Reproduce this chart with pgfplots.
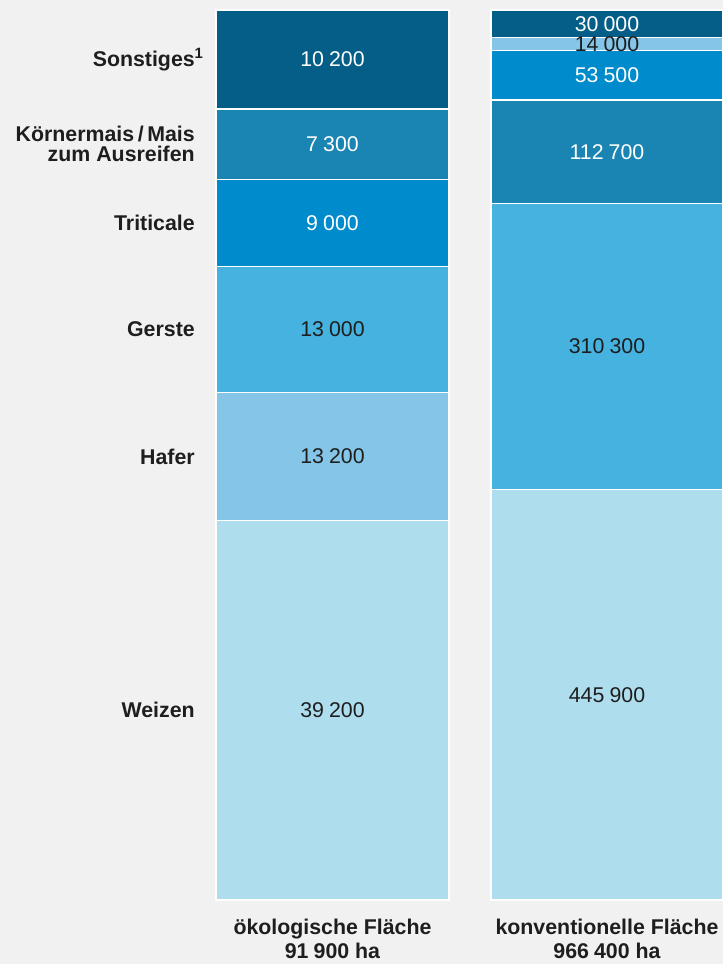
\documentclass[border=0pt]{standalone}
\usepackage{pgfplots}
\pgfplotsset{compat=1.18}
\usepackage{fontspec}
\setmainfont{Liberation Sans}

\definecolor{bgc}{HTML}{F1F1F1}
\definecolor{cWeizen}{HTML}{AEDEEE}
\definecolor{cHafer}{HTML}{85C6E8}
\definecolor{cGerste}{HTML}{45B2E0}
\definecolor{cTriticale}{HTML}{008CCC}
\definecolor{cMais}{HTML}{1A84B2}
\definecolor{cSonst}{HTML}{045E87}
\definecolor{txt}{HTML}{1E1E1E}

\pgfplotsset{
  stackbar/.style={
    scale only axis,
    height=667.5pt,
    xmin=-0.5, xmax=0.5, ymin=0,
    axis line style={draw=none},
    major tick length=0pt,
    scaled y ticks=false,
    clip=false,
    ybar stacked, bar width=1,
    xtick={0},
    xticklabel style={font=\bfseries\fontsize{16}{18}\selectfont, align=center,
      anchor=north, inner sep=0pt, yshift=-14pt, text=txt},
    nodes near coords={\pgfmathprintnumber{\rawy}},
    visualization depends on=rawy \as \rawy,
    every node near coord/.append style={anchor=center, text=txt,
      font=\fontsize{16}{16}\selectfont},
    /pgf/number format/fixed,
    /pgf/number format/precision=0,
    /pgf/number format/1000 sep={\hspace{0.24em}},
    /pgf/number format/assume math mode=true,
  },
  seg/.style={fill=#1, draw=white, line width=1.2pt},
  light/.style={every node near coord/.append style={text=white}},
}

\begin{document}
\begin{tikzpicture}
\fill[bgc] (0,-48pt) rectangle (542.25pt,675pt);

% oekologische Flaeche
\begin{axis}[stackbar, at={(162pt,0pt)}, width=174.75pt, ymax=91900,
  xticklabels={{ökologische Fläche\\91\hspace{0.24em}900 ha}},
  ytick={19600,45800,58900,69900,78050,86800},
  yticklabels={Weizen,Hafer,Gerste,Triticale,{Körnermais\,/\,Mais\\zum Ausreifen},Sonstiges\rlap{\textsuperscript{1}}},
  yticklabel style={font=\bfseries\fontsize{16}{15}\selectfont, align=right,
    anchor=east, inner sep=0pt, xshift=-15.75pt, text=txt},
]
\addplot[seg=cWeizen] coordinates {(0,39200)};
\addplot[seg=cHafer] coordinates {(0,13200)};
\addplot[seg=cGerste] coordinates {(0,13000)};
\addplot[seg=cTriticale, light] coordinates {(0,9000)};
\addplot[seg=cMais, light] coordinates {(0,7300)};
\addplot[seg=cSonst, light] coordinates {(0,10200)};
\end{axis}

% konventionelle Flaeche
\begin{axis}[stackbar, at={(368.25pt,0pt)}, width=174pt, ymax=966400,
  xticklabels={{konventionelle Fläche\\966\hspace{0.24em}400 ha}},
  ytick=\empty,
]
\addplot[seg=cWeizen] coordinates {(0,445900)};
\addplot[seg=cGerste] coordinates {(0,310300)};
\addplot[seg=cMais, light] coordinates {(0,112700)};
\addplot[seg=cTriticale, light] coordinates {(0,53500)};
\addplot[seg=cHafer] coordinates {(0,14000)};
\addplot[seg=cSonst, light] coordinates {(0,30000)};
\end{axis}

\pgfresetboundingbox
\path (0,-48pt) rectangle (542.25pt,675pt);
\end{tikzpicture}
\end{document}
